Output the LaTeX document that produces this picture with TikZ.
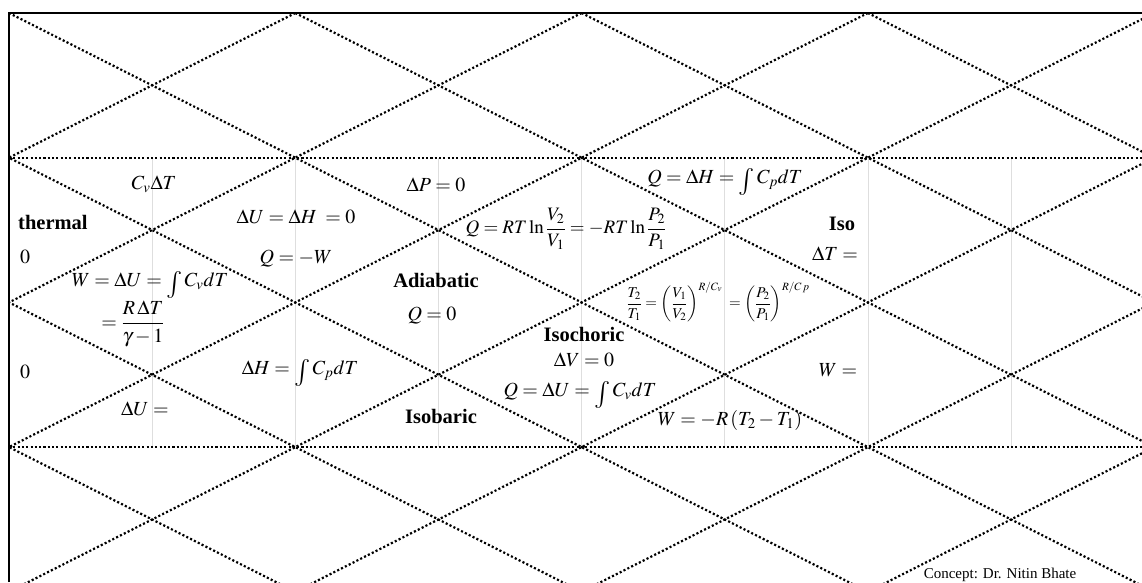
\documentclass[tikz,border=0pt]{standalone}
\usepackage{mathptmx}
\usepackage{fontspec}
\setmainfont{Liberation Serif}
\newcommand{\Tint}{\mathop{\raisebox{-0.28em}{\fontsize{27}{27}\selectfont$\int$}}\nolimits}
\begin{document}
\begin{tikzpicture}[x=1pt,y=-1pt,
  frame/.style={line width=1.4pt},
  dots/.style={line width=2.2pt, dash pattern=on 2.1pt off 2.2pt},
  guide/.style={line width=0.8pt, black!13},
  lbl/.style={font=\fontsize{20}{24}\selectfont, inner sep=0pt},
  hd/.style={font=\fontsize{20.5}{24}\selectfont\bfseries, inner sep=0pt},
  small/.style={font=\fontsize{15}{18}\selectfont, inner sep=0pt}]
\useasboundingbox (0,0) rectangle (1142,582);
\def\P{286.3}
\def\H{144.7}
\foreach \m in {1,...,7} \draw[guide] ({9+143.15*\m},158) -- ({9+143.15*\m},447);
\begin{scope}
\clip (9,13) rectangle (1142,582);
\foreach \k in {-4,...,8} {
  \draw[dots] ({9+\P*\k},13) -- ({9+\P*(\k+4)},{13+4*\H});
  \draw[dots] ({9+\P*\k},13) -- ({9+\P*(\k-4)},{13+4*\H});
}
\draw[dots] (9,158) -- (1142,158);
\draw[dots] (9,447) -- (1142,447);
\end{scope}
\draw[frame] (9,582) -- (9,13) -- (1142,13);

\node[lbl] (cvdt) at (154,184) {$C_v\Delta T$};
\node[hd, anchor=west] (thermal) at (18,222) {thermal};
\node[lbl] (zeroA) at (25,257) {$0$};
\node[lbl] (wdu) at (150,285) {$W=\Delta U=\Tint C_v dT$};
\node[lbl] (rfrac) at (133,324) {$\displaystyle =\frac{R\,\Delta T}{\gamma-1}$};
\node[lbl] (zeroB) at (25,372) {$0$};
\node[lbl] (du) at (145,409) {$\Delta U=$};
\node[lbl] (duh) at (296,217) {$\Delta U=\Delta H\;=0$};
\node[lbl] (qw) at (296,259) {$Q=-W$};
\node[lbl] (dh) at (300,373) {$\Delta H=\Tint C_p dT$};
\node[lbl] (dp) at (436,185) {$\Delta P=0$};
\node[hd] (adia) at (436,280) {Adiabatic};
\node[lbl] (qzero) at (432,316) {$Q=0$};
\node[hd] (isob) at (441,416) {Isobaric};
\node[font=\fontsize{19}{22}\selectfont, inner sep=0pt] (qrt) at (566,229) {$\displaystyle Q=RT\ln\frac{V_2}{V_1}=-RT\ln\frac{P_2}{P_1}$};
\node[lbl] (qdh) at (725,182) {$Q=\Delta H=\Tint C_p dT$};
\node[small] (tt) at (718,302) {$\displaystyle \frac{T_2}{T_1}=\left(\frac{V_1}{V_2}\right)^{R/C_v}\;=\left(\frac{P_2}{P_1}\right)^{R/C\,p}$};
\node[hd] (isoc) at (584,334) {Isochoric};
\node[lbl] (dv) at (584,360) {$\Delta V=0$};
\node[lbl] (qdu) at (580,395) {$Q=\Delta U=\Tint C_v dT$};
\node[lbl] (wr) at (730,420) {$W=-R\left(T_2-T_1\right)$};
\node[hd] (iso) at (842,224) {Iso};
\node[lbl] (dt) at (835,254) {$\Delta T=$};
\node[lbl] (wq) at (838,370) {$W=$};
\node[small] (concept) at (1000,575) {Concept: Dr. Nitin Bhate};
\end{tikzpicture}
\end{document}
